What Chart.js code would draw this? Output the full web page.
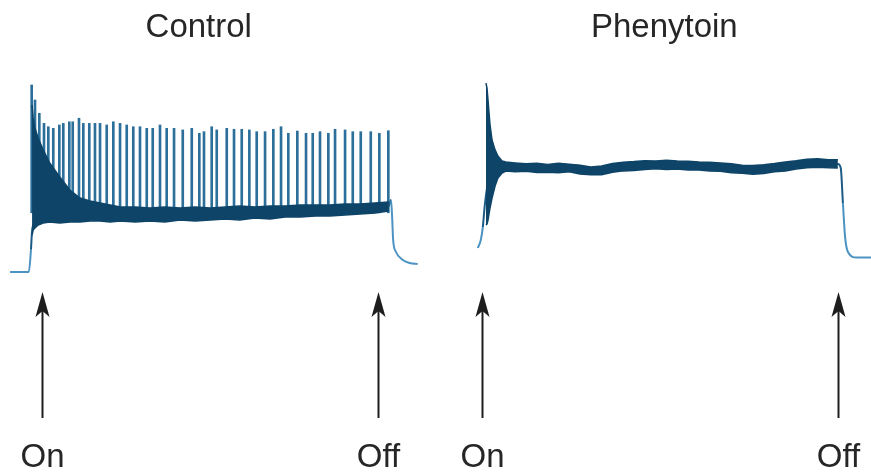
<!DOCTYPE html>
<html>
<head>
<meta charset="utf-8">
<script src="https://cdn.jsdelivr.net/npm/chart.js@4.4.6/dist/chart.umd.min.js"></script>
<style>
  html, body { margin: 0; padding: 0; background: #ffffff; }
  #wrap { position: relative; width: 871px; height: 472px; overflow: hidden; }
  #wrap canvas { position: absolute; top: 0; }
  #control { left: 0; }
  #phenytoin { left: 436px; }
</style>
</head>
<body>
<div id="wrap">
  <canvas id="control" width="436" height="472"></canvas>
  <canvas id="phenytoin" width="435" height="472"></canvas>
</div>
<script>
// time in ms from stimulus onset, membrane potential in mV
const stimLabels = ['On', 'Off']

// --- Control ---
const controlTime = [-29, -3, 0, 1.4, 3, 12, 40, 100, 165, 235, 304, 374, 443, 497, 500, 501.4, 503, 507, 515, 526, 537]
const controlTrace = [-70, -70, -56, -45, -40.6, -36, -34, -34, -34.4, -34, -33, -32, -30.6, -28.8, -25, -34, -50, -57.5, -62, -64.4, -65]

const controlBandTime = [1.5, 3, 5.5, 10, 17, 26, 40, 54, 68, 82, 96, 110, 124, 145, 165, 186, 207, 228, 249, 270, 290, 311, 332, 353, 374, 395, 415, 436, 457, 478, 497]
const controlBandUpper = [34.4, 26.3, 20, 13.8, 6.3, -1.9, -10.6, -18.8, -23.8, -25.6, -26.9, -28.1, -29.4, -29.4, -30, -29.4, -30, -29.4, -30, -29.4, -28.8, -29.4, -28.8, -28.8, -28.1, -28.1, -28.1, -27.5, -27.5, -26.9, -26.3]
const controlBandLower = [-46.9, -43.8, -42.5, -40.6, -39.4, -38.8, -39.4, -38.8, -38.8, -38.1, -38.1, -38.8, -38.1, -38.8, -38.1, -38.8, -37.5, -38.1, -37.5, -36.9, -37.5, -36.3, -36.9, -35.6, -35.6, -35, -35, -34.4, -33.8, -33.1, -31.9]

const controlSpikeTime = [1, 5.6, 11.6, 18.1, 24.1, 31, 39.4, 44.9, 53.3, 58, 66.7, 72.7, 81, 88.9, 95.9, 105.2, 114.4, 123.7, 133, 142.1, 151.4, 160.8, 169.1, 179.2, 188.5, 198.7, 210.8, 223.3, 233.8, 240.3, 251, 258, 271.9, 282, 292.7, 303.3, 313.5, 325.1, 336.6, 347.3, 357.4, 369.9, 382, 391.3, 401.4, 413, 422.3, 436.2, 446.9, 458, 471.9, 483.8, 496.3]
const controlSpikePeak = [46.9, 37.5, 29.2, 22.9, 20.8, 19.8, 21.9, 22.9, 23.9, 23.9, 26.1, 22.9, 22.9, 22.9, 22.9, 21.9, 23.9, 22.9, 21.9, 20.8, 20.8, 19.8, 19.8, 21.9, 19.8, 19.8, 18.8, 19.8, 16.7, 17.7, 20.8, 18.8, 19.8, 19.2, 19.2, 18.8, 17.7, 17.7, 19.2, 20.8, 16.7, 18.1, 16.7, 16.7, 17.7, 16.7, 19.2, 18.8, 17.7, 17.7, 17.7, 16.7, 18.3]
const controlSpikeBase = -33

const controlArrowTime = [15, 482]

// --- Phenytoin ---
const phenytoinTime = [-7, -2.8, 0, 2.8, 9.7, 23.6, 30.6, 79, 121, 155.6, 190, 232, 273.6, 329, 385, 412.5, 458, 493, 497, 500, 503, 507, 519, 539]
const phenytoinTrace = [-55, -50, -42, -28, -9.4, -5, -4.4, -5, -5, -6.9, -4.4, -3.1, -3.1, -4.4, -6.3, -4.4, -1.9, -2.5, -5, -26.9, -48, -57.5, -61, -61]

const phenytoinBandTime = [4.4, 5.8, 7.2, 10, 12.8, 17, 21, 26.7, 32, 45, 60, 75, 90, 105, 120, 135, 150, 165, 180, 195, 210, 225, 240, 255, 270, 285, 300, 315, 330, 345, 360, 375, 390, 405, 420, 435, 450, 465, 480, 493]
const phenytoinBandUpper = [48.1, 45, 37.5, 21.9, 12.5, 6.3, 2.5, -0.6, -1.3, -1.8, -2.4, -2.0, -2.8, -2.1, -2.6, -3.2, -4.3, -3.7, -2.2, -1.4, -1.0, -0.4, -0.6, -0.2, -0.6, -0.8, -1.2, -1.4, -1.9, -2.4, -3.3, -3.5, -3.0, -2.2, -1.2, -0.5, 0.4, 0.8, 0.2, 0.1]
const phenytoinBandLower = [-40.6, -40, -37.5, -30, -23.8, -16.3, -11.3, -8.1, -6.9, -7.3, -7.0, -7.8, -7.6, -7.9, -7.4, -8.8, -9.2, -9.2, -7.7, -6.8, -6.5, -5.9, -5.4, -6.0, -5.6, -6.2, -6.3, -6.9, -7.0, -7.9, -8.3, -8.9, -8.4, -7.3, -6.8, -5.6, -4.9, -4.6, -4.9, -5.0]

const phenytoinArrowTime = [-1, 493]

const STIM_END = 500
const BAND_COLOR = '#0d4468'
const TRACE_COLOR = '#1b5b85'
const TRACE_LIGHT = '#4b93c2'
const SPIKE_COLOR = '#2c6f9a'
const TEXT_COLOR = '#262626'
const FONT = '33px "Liberation Sans", Arial, Helvetica, sans-serif'

const zip = (xs, ys) => xs.map((x, i) => ({ x, y: ys[i] }))

const panelDecor = {
  id: 'panelDecor',
  afterDraw(chart, args, opts) {
    const { ctx } = chart
    const xScale = chart.scales.x
    ctx.save()
    ctx.fillStyle = TEXT_COLOR
    ctx.strokeStyle = '#1e1e1e'
    ctx.font = FONT
    ctx.textAlign = 'center'
    ctx.textBaseline = 'alphabetic'

    // title
    ctx.fillText(opts.title, xScale.getPixelForValue(opts.titleTime), 37)

    // stimulus arrows
    opts.arrows.forEach((t, i) => {
      const x = Math.round(xScale.getPixelForValue(t)) + 0.5
      ctx.lineWidth = 2
      ctx.beginPath()
      ctx.moveTo(x, 418)
      ctx.lineTo(x, 305)
      ctx.stroke()
      ctx.fillStyle = '#1e1e1e'
      ctx.beginPath()
      ctx.moveTo(x, 292)
      ctx.lineTo(x + 7, 317)
      ctx.lineTo(x, 311)
      ctx.lineTo(x - 7, 317)
      ctx.closePath()
      ctx.fill()
      ctx.fillStyle = TEXT_COLOR
      ctx.fillText(stimLabels[i], x, 467)
    })
    ctx.restore()
  }
}

function makePanel(canvasId, panel) {
  const traceColor = (c) => {
    const a = c.p0.parsed.x
    const b = c.p1.parsed.x
    return (a < 0 || b > STIM_END) ? TRACE_LIGHT : TRACE_COLOR
  }

  const datasets = [
    {
      type: 'line',
      data: zip(panel.bandTime, panel.bandUpper),
      borderColor: BAND_COLOR,
      borderWidth: 1.5,
      backgroundColor: BAND_COLOR,
      fill: '+1',
      pointRadius: 0
    },
    {
      type: 'line',
      data: zip(panel.bandTime, panel.bandLower),
      borderColor: BAND_COLOR,
      borderWidth: 1.5,
      fill: false,
      pointRadius: 0
    },
    {
      type: 'line',
      data: zip(panel.time, panel.trace),
      borderWidth: 2,
      borderColor: TRACE_COLOR,
      segment: { borderColor: traceColor },
      cubicInterpolationMode: 'monotone',
      fill: false,
      pointRadius: 0
    }
  ]

  if (panel.spikeTime) {
    datasets.push({
      type: 'bar',
      data: panel.spikeTime.map((t, i) => ({ x: t, y: [panel.spikeBase, panel.spikePeak[i]] })),
      backgroundColor: SPIKE_COLOR,
      barThickness: 2,
      grouped: false
    })
  }

  return new Chart(document.getElementById(canvasId), {
    type: 'line',
    data: { datasets },
    options: {
      responsive: false,
      animation: false,
      events: [],
      layout: { padding: 0 },
      scales: {
        x: { type: 'linear', min: panel.xMin, max: panel.xMax, offset: false, display: false },
        y: { type: 'linear', min: -195, max: 100, display: false }
      },
      plugins: {
        legend: { display: false },
        tooltip: { enabled: false },
        panelDecor: { title: panel.title, titleTime: panel.titleTime, arrows: panel.arrows }
      }
    },
    plugins: [panelDecor]
  })
}

makePanel('control', {
  title: 'Control',
  titleTime: 233,
  xMin: -43,
  xMax: 562.5,
  time: controlTime,
  trace: controlTrace,
  bandTime: controlBandTime,
  bandUpper: controlBandUpper,
  bandLower: controlBandLower,
  spikeTime: controlSpikeTime,
  spikePeak: controlSpikePeak,
  spikeBase: controlSpikeBase,
  arrows: controlArrowTime
})

makePanel('phenytoin', {
  title: 'Phenytoin',
  titleTime: 252,
  xMin: -65,
  xMax: 539,
  time: phenytoinTime,
  trace: phenytoinTrace,
  bandTime: phenytoinBandTime,
  bandUpper: phenytoinBandUpper,
  bandLower: phenytoinBandLower,
  arrows: phenytoinArrowTime
})
</script>
</body>
</html>
